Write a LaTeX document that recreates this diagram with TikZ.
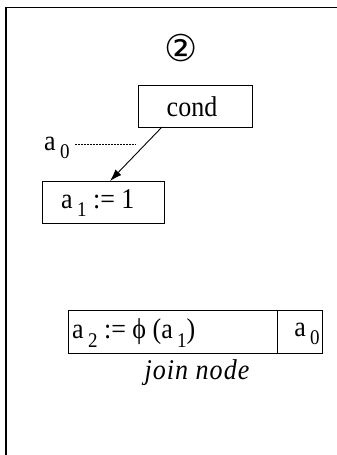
\documentclass[tikz,border=0pt]{standalone}
\usepackage{fontspec}
\setmainfont{Liberation Serif}
\newfontfamily\symfont{DejaVu Sans}
\usetikzlibrary{arrows.meta}
\newcommand{\lowidx}[1]{\,\raisebox{-0.3em}{\fontsize{19}{19}\selectfont #1}}
\newcommand{\tallt}[1]{\scalebox{1}[1.1]{#1}}
\tikzset{
  box/.style={draw, line width=1pt, inner sep=0pt, anchor=north west},
  lbl/.style={font=\fontsize{26}{26}\selectfont, inner sep=0pt},
  conn/.style={line width=0.9pt, -{Latex[length=12pt,width=8pt]}}
}
\begin{document}
\begin{tikzpicture}[x=1pt,y=-1pt]
\useasboundingbox (0,0) rectangle (337,455);
\draw[line width=0.9pt] (6,7) -- (337,7);
\draw[line width=2.2pt] (6,7) -- (6,455);
\node[inner sep=0pt, font=\symfont\fontsize{37}{37}\selectfont] (circ) at (181,48) {②};
\node[box, minimum width=114pt, minimum height=42pt] (cond) at (138,85) {};
\node[lbl] (condt) at (192,107) {\tallt{cond}};
\node[box, minimum width=122pt, minimum height=42pt] (a1) at (42,181) {};
\node[lbl, anchor=west] (a1t) at (61,203) {\tallt{a\lowidx{1} := 1}};
\node[box, minimum width=254pt, minimum height=43pt] (join) at (68,310) {};
\coordinate (divtop) at (277,310);
\coordinate (divbot) at (277,353);
\draw[line width=0.6pt] (divtop) -- (divbot);
\node[lbl, anchor=west] (j1) at (72,333) {\tallt{a\lowidx{2} := ϕ (a\lowidx{1})}};
\node[lbl] (j2) at (307,334) {\tallt{a\lowidx{0}}};
\node[font=\itshape\fontsize{26}{26}\selectfont\addfontfeature{LetterSpace=4}, inner sep=0pt] (jn) at (197,373) {\tallt{join node}};
\node[lbl, anchor=west] (a0) at (44,148) {\tallt{a\lowidx{0}}};
\coordinate (dotend) at (136,144);
\coordinate (dotstart) at (75,144);
\draw[line width=1pt, dash pattern=on 1.6pt off 1.4pt] (dotstart) -- (dotend);
\coordinate (arrs) at (162,127);
\draw[conn] (arrs) -- (a1.north -| 110,0);
\end{tikzpicture}
\end{document}
